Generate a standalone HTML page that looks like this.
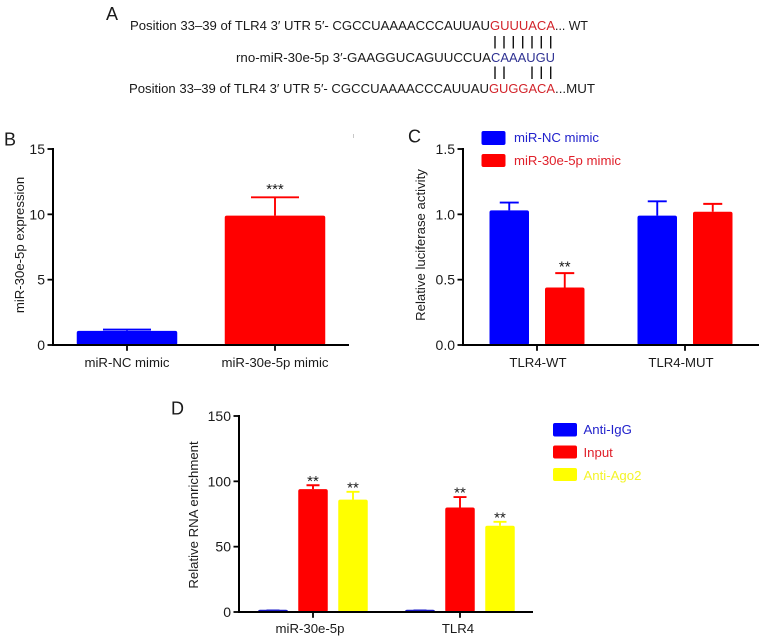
<!DOCTYPE html>
<html>
<head>
<meta charset="utf-8">
<title>miR-30e-5p figure</title>
<style>
html,body{margin:0;padding:0;background:#fff;}
svg{display:block;filter:blur(0.3px);}
text{font-family:"Liberation Sans",sans-serif;fill:#1a1a1a;}
</style>
</head>
<body>
<svg id="fig" xmlns="http://www.w3.org/2000/svg" width="765" height="641" viewBox="0 0 765 641">
  <g font-size="13">
    <text x="106" y="20" font-size="18">A</text>
    <text x="130" y="30" textLength="360" lengthAdjust="spacingAndGlyphs">Position 33–39 of TLR4 3′ UTR 5′- CGCCUAAAACCCAUUAU</text>
    <text x="490" y="30" textLength="65" lengthAdjust="spacingAndGlyphs" style="fill:#d2232a">GUUUACA</text>
    <text x="555" y="30" textLength="33" lengthAdjust="spacingAndGlyphs">... WT</text>
    <text x="236" y="62" textLength="255" lengthAdjust="spacingAndGlyphs">rno-miR-30e-5p 3′-GAAGGUCAGUUCCUA</text>
    <text x="491" y="62" textLength="64" lengthAdjust="spacingAndGlyphs" style="fill:#2e3192">CAAAUGU</text>
    <text x="129" y="93" textLength="360" lengthAdjust="spacingAndGlyphs">Position 33–39 of TLR4 3′ UTR 5′- CGCCUAAAACCCAUUAU</text>
    <text x="489" y="93" textLength="66" lengthAdjust="spacingAndGlyphs" style="fill:#d2232a">GUGGACA</text>
    <text x="555" y="93" textLength="40" lengthAdjust="spacingAndGlyphs">...MUT</text>
    <g stroke="#111" stroke-width="1.4">
      <path d="M495 36V48.500M504 36V48.500M513.300 36V48.500M522.700 36V48.500M532 36V48.500M541.300 36V48.500M550.700 36V48.500"/>
    </g>
    <g stroke="#111" stroke-width="1.4">
      <path d="M495 66.500V79M504 66.500V79M532 66.500V79M541.300 66.500V79M550.700 66.500V79"/>
    </g>
  </g>
  <text x="4" y="145.500" font-size="18">B</text>
  <text x="408" y="142.500" font-size="18">C</text>
  <text x="171" y="414.500" font-size="18">D</text>
  <rect x="353" y="134" width="0.8" height="4" fill="#bbb"/>

  <g font-size="13.200">
    <rect x="481.500" y="131" width="24" height="14" rx="2" fill="#0000ff"/>
    <text x="514" y="142" style="fill:#2222cc">miR-NC mimic</text>
    <rect x="481.500" y="154" width="24" height="13" rx="2" fill="#ff0000"/>
    <text x="514" y="165" style="fill:#e0202a">miR-30e-5p mimic</text>
  </g>
  <g font-size="13.200">
    <rect x="553" y="423" width="24" height="13.500" rx="2" fill="#0000ff"/>
    <text x="583.500" y="434" style="fill:#2222cc">Anti-IgG</text>
    <rect x="553" y="445.500" width="24" height="13" rx="2" fill="#ff0000"/>
    <text x="583.500" y="457" style="fill:#e0202a">Input</text>
    <rect x="553" y="468" width="24" height="13" rx="2" fill="#ffff00"/>
    <text x="583.500" y="480" style="fill:#f4f42a">Anti-Ago2</text>
  </g>
</svg>
<script>
// Panel B data
const bCategories = ['miR-NC mimic', 'miR-30e-5p mimic'];
const bTicks = ['0', '5', '10', '15'];
const bValues = [1.08, 9.9];
const bErrors = [1.18, 11.3];
const bSig = ['', '***'];

// Panel C data
const cCategories = ['TLR4-WT', 'TLR4-MUT'];
const cTicks = ['0.0', '0.5', '1.0', '1.5'];
const cMiRNC = [1.03, 0.99];
const cMiRNCErr = [1.09, 1.10];
const cMiR30e = [0.44, 1.02];
const cMiR30eErr = [0.55, 1.08];
const cSigNC = ['', ''];
const cSig30e = ['**', ''];

// Panel D data
const dCategories = ['miR-30e-5p', 'TLR4'];
const dTicks = ['0', '50', '100', '150'];
const dAntiIgG = [1.7, 1.7];
const dAntiIgGErr = [1.2, 1.2];
const dInput = [94, 80];
const dInputErr = [97, 88];
const dAntiAgo2 = [86, 66];
const dAntiAgo2Err = [92, 69];
const dSigIgG = ['', ''];
const dSigInput = ['**', '**'];
const dSigAgo2 = ['**', '**'];

const NS = 'http://www.w3.org/2000/svg';
const fig = document.getElementById('fig');

function make(tag, attrs, parent) {
  const el = document.createElementNS(NS, tag);
  for (const k in attrs) el.setAttribute(k, attrs[k]);
  parent.appendChild(el);
  return el;
}

function drawChart(c) {
  const g = make('g', {}, fig);
  
  

  const maxV = parseFloat(c.ticks[c.ticks.length - 1]);
  const yScale = function (v) { return c.y0 - (v / maxV) * (c.y0 - c.yTop); };
  const xScale = function (groupIndex, seriesIndex) {
    const mid = (c.series.length - 1) / 2;
    return c.groupX[groupIndex] + (seriesIndex - mid) * c.seriesStep;
  };

  c.series.forEach(function (s, si) {
    s.values.forEach(function (v, gi) {
      const cx = xScale(gi, si);
      const errY = yScale(s.errors[gi]);
      const color = s.colors[gi];
      const stem = make('path', {
        d: 'M' + cx + ' ' + yScale(v) + 'V' + errY + 'M' + (cx - c.capW / 2) + ' ' + errY + 'H' + (cx + c.capW / 2),
        stroke: color, 'stroke-width': 1.9, fill: 'none'
      }, g);
      
      

      const bar = make('rect', {
        x: cx - c.barW / 2, y: yScale(v), width: c.barW, height: c.y0 - yScale(v),
        rx: 2, fill: color
      }, g);
      
      

      if (s.sig[gi]) {
        const star = make('text', {
          x: cx, y: errY + c.sigDy, 'text-anchor': 'middle', 'font-size': 15
        }, g);
        star.textContent = s.sig[gi];
        
        
      }
    });
  });

  const yAxis = make('path', {
    d: 'M' + c.x0 + ' ' + (c.yTop - 1) + 'V' + (c.y0 + 1),
    stroke: '#000', 'stroke-width': 2, fill: 'none'
  }, g);
  
  

  const xAxis = make('path', {
    d: 'M' + c.x0 + ' ' + c.y0 + 'H' + c.xEnd,
    stroke: '#000', 'stroke-width': 2, fill: 'none'
  }, g);
  
  

  c.ticks.forEach(function (t) {
    const y = yScale(parseFloat(t));
    const tick = make('path', {
      d: 'M' + (c.x0 - 5.5) + ' ' + y + 'H' + c.x0,
      stroke: '#000', 'stroke-width': 1.8
    }, g);
    
    
    const lab = make('text', {
      x: c.x0 - 8, y: y + 5, 'text-anchor': 'end', 'font-size': 14
    }, g);
    lab.textContent = t;
    
    
  });

  c.categories.forEach(function (cat, i) {
    const tick = make('path', {
      d: 'M' + c.groupX[i] + ' ' + c.y0 + 'v5.800',
      stroke: '#000', 'stroke-width': 1.8
    }, g);
    
    
    const lab = make('text', {
      x: c.groupX[i] + c.labelDx[i], y: c.y0 + c.labelDy, 'text-anchor': 'middle', 'font-size': 13.2
    }, g);
    lab.textContent = cat;
    
    
  });

  const title = make('text', {
    transform: 'translate(' + c.titleX + ',' + c.titleY + ') rotate(-90)',
    'text-anchor': 'middle', 'font-size': 13.2
  }, g);
  title.textContent = c.title;
  
  
}

drawChart({
  name: 'chart-b', title: 'miR-30e-5p expression',
  categories: bCategories, ticks: bTicks,
  series: [{ values: bValues, errors: bErrors, sig: bSig, colors: ['#0000ff', '#ff0000'] }],
  x0: 53, xEnd: 349, y0: 345, yTop: 149,
  groupX: [127, 275], seriesStep: 0, barW: 100.5, capW: 48, sigDy: -3.5,
  labelDx: [0, 0], labelDy: 22, titleX: 24, titleY: 245
});

drawChart({
  name: 'chart-c', title: 'Relative luciferase activity',
  categories: cCategories, ticks: cTicks,
  series: [
    { values: cMiRNC, errors: cMiRNCErr, sig: cSigNC, colors: ['#0000ff', '#0000ff'] },
    { values: cMiR30e, errors: cMiR30eErr, sig: cSig30e, colors: ['#ff0000', '#ff0000'] }
  ],
  x0: 463, xEnd: 759, y0: 345, yTop: 149,
  groupX: [537, 685], seriesStep: 55.5, barW: 39.5, capW: 19, sigDy: -1.5,
  labelDx: [1, -4], labelDy: 22, titleX: 425, titleY: 245
});

drawChart({
  name: 'chart-d', title: 'Relative RNA enrichment',
  categories: dCategories, ticks: dTicks,
  series: [
    { values: dAntiIgG, errors: dAntiIgGErr, sig: dSigIgG, colors: ['#1a1ac8', '#1a1ac8'] },
    { values: dInput, errors: dInputErr, sig: dSigInput, colors: ['#ff0000', '#ff0000'] },
    { values: dAntiAgo2, errors: dAntiAgo2Err, sig: dSigAgo2, colors: ['#ffff00', '#ffff00'] }
  ],
  x0: 239, xEnd: 533, y0: 612, yTop: 416,
  groupX: [313, 460], seriesStep: 40, barW: 29.5, capW: 13, sigDy: 0.5,
  labelDx: [-3, -2], labelDy: 21, titleX: 198, titleY: 515
});
</script>
</body>
</html>
